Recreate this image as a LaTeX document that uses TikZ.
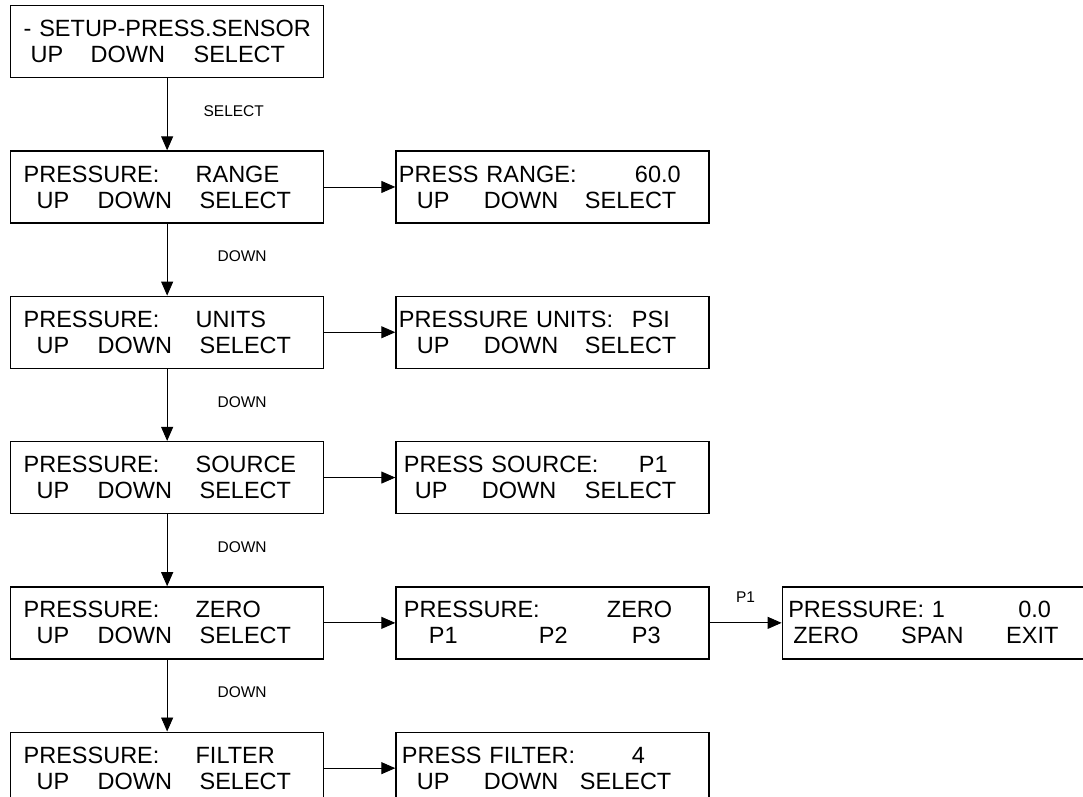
\documentclass[tikz,border=0pt]{standalone}
\usepackage{fontspec}
\setmainfont{Liberation Sans}
\usetikzlibrary{arrows.meta, positioning}
\setlength{\parindent}{0pt}
\newcommand{\lcdat}[2]{\leavevmode\rlap{\hspace*{#1}#2}}
\newcommand{\updown}[3]{\lcdat{#1}{UP}\lcdat{#2}{DOWN}\lcdat{#3}{SELECT}}

\begin{document}
\begin{tikzpicture}[x=1pt, y=1pt,
      screen/.style={rectangle, draw, line width=1.3pt, text width=313pt, minimum height=72pt,
        inner xsep=0pt, inner ysep=0pt, align=left, font=\fontsize{23.5}{26}\selectfont},
      flow/.style={-{Triangle[length=14pt, width=12pt]}, line width=0.9pt},
      key/.style={anchor=west, inner sep=0pt, yshift=3pt, font=\fontsize{15.5}{18}\selectfont}]
  \useasboundingbox (0,0) rectangle (1083,-796);
  % left column
  \node[screen, anchor=north west] (setup) at (10,-5)
    {\lcdat{13pt}{- SETUP-PRESS.SENSOR}\\ \updown{20pt}{80pt}{183pt}};
  \node[screen, below=72pt of setup] (range)
    {\lcdat{13pt}{PRESSURE:}\lcdat{185pt}{RANGE}\\ \updown{26pt}{87pt}{189pt}};
  \node[screen, below=72pt of range] (units)
    {\lcdat{13pt}{PRESSURE:}\lcdat{185pt}{UNITS}\\ \updown{26pt}{87pt}{189pt}};
  \node[screen, below=72pt of units] (source)
    {\lcdat{13pt}{PRESSURE:}\lcdat{185pt}{SOURCE}\\ \updown{26pt}{87pt}{189pt}};
  \node[screen, below=72pt of source] (zero)
    {\lcdat{13pt}{PRESSURE:}\lcdat{185pt}{ZERO}\\ \updown{26pt}{87pt}{189pt}};
  \node[screen, below=72pt of zero] (filter)
    {\lcdat{13pt}{PRESSURE:}\lcdat{185pt}{FILTER}\\ \updown{26pt}{87pt}{189pt}};
  % right column
  \node[screen, right=71pt of range] (rangeval)
    {\lcdat{3pt}{PRESS RANGE:}\lcdat{239pt}{60.0}\\ \updown{21pt}{88pt}{189pt}};
  \node[screen, right=71pt of units] (unitsval)
    {\lcdat{3pt}{PRESSURE UNITS:}\lcdat{236pt}{PSI}\\ \updown{21pt}{88pt}{189pt}};
  \node[screen, right=71pt of source] (sourceval)
    {\lcdat{8pt}{PRESS SOURCE:}\lcdat{243pt}{P1}\\ \updown{19pt}{86pt}{189pt}};
  \node[screen, right=71pt of zero] (zerosel)
    {\lcdat{8pt}{PRESSURE:}\lcdat{211pt}{ZERO}\\ \lcdat{33pt}{P1}\lcdat{143pt}{P2}\lcdat{236pt}{P3}};
  \node[screen, right=71pt of filter] (filterval)
    {\lcdat{6pt}{PRESS FILTER:}\lcdat{236pt}{4}\\ \updown{21pt}{88pt}{184pt}};
  \node[screen, right=72pt of zerosel] (zerocal)
    {\lcdat{6pt}{PRESSURE: 1}\lcdat{236pt}{0.0}\\ \lcdat{11pt}{ZERO}\lcdat{119pt}{SPAN}\lcdat{224pt}{EXIT}};
  % connectors
  \draw[flow] (setup) -- node[key, xshift=36pt] {SELECT} (range);
  \foreach \a/\b in {range/units, units/source, source/zero, zero/filter}
    \draw[flow] (\a) -- node[key, xshift=50pt] {DOWN} (\b);
  \foreach \a/\b in {range/rangeval, units/unitsval, source/sourceval, zero/zerosel, filter/filterval}
    \draw[flow] (\a) -- (\b);
  \draw[flow] (zerosel) -- node[key, anchor=center, yshift=23pt] {P1} (zerocal);
\end{tikzpicture}
\end{document}
